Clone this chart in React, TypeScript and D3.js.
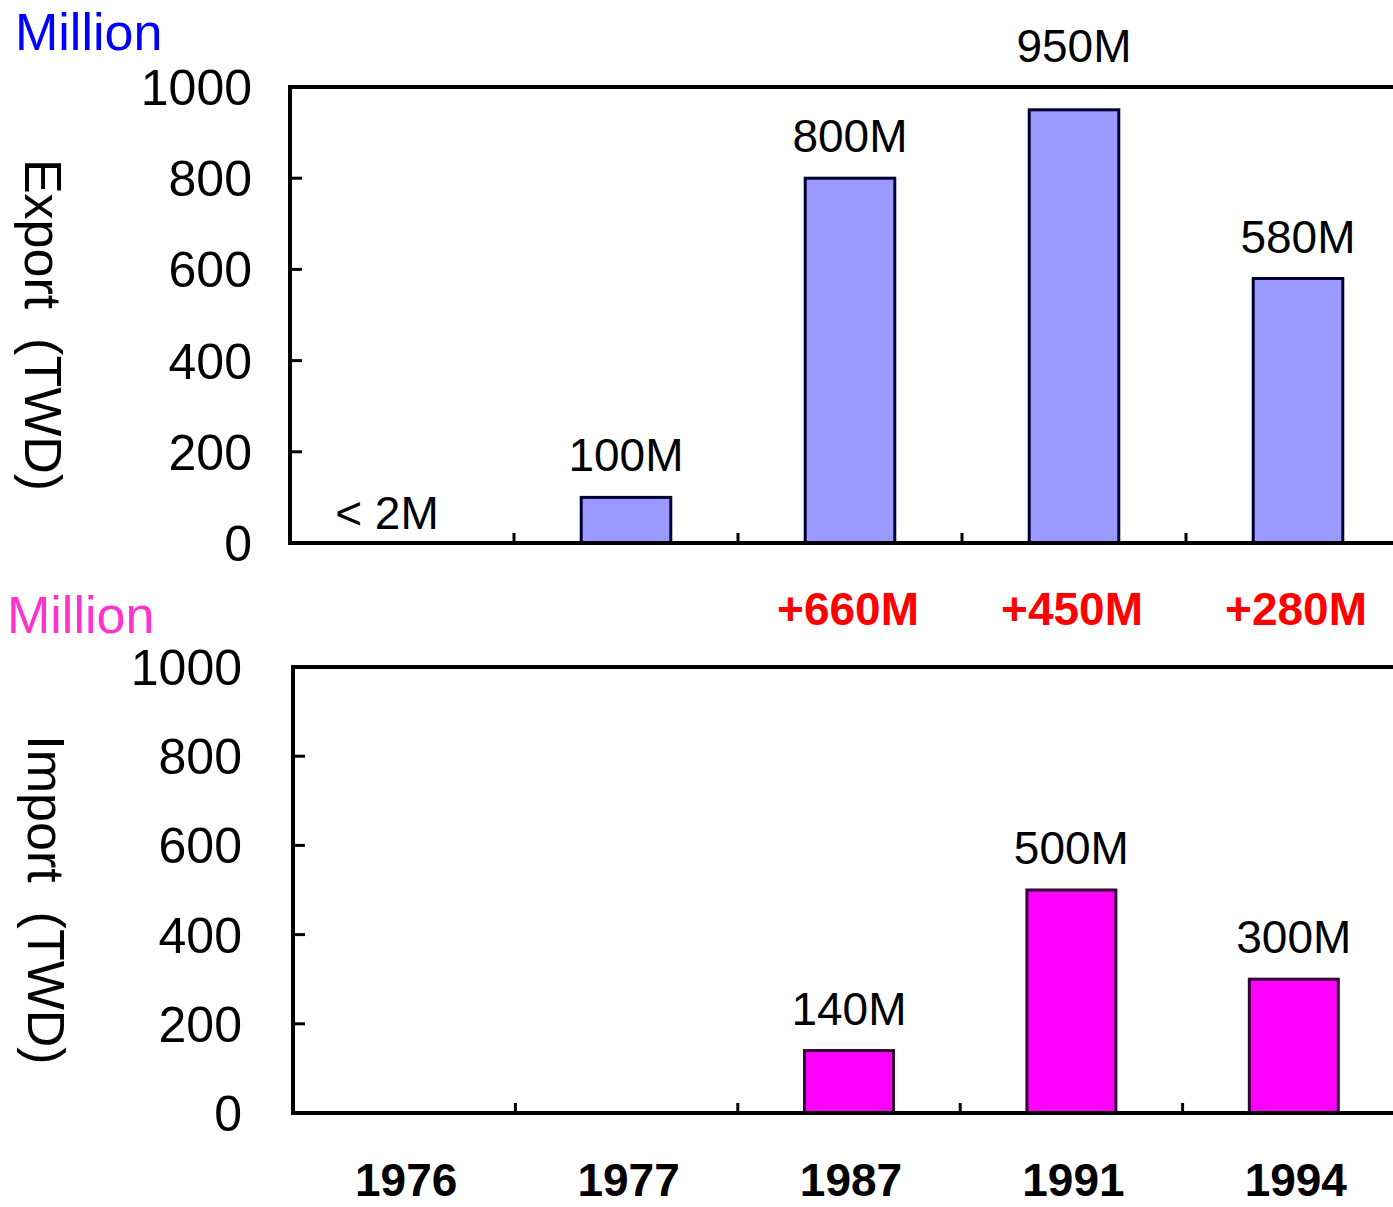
import { useEffect, useRef } from 'react'
import * as d3 from 'd3'

const years = ['1976', '1977', '1987', '1991', '1994']
const exportValues = [2, 100, 800, 950, 580]
const exportLabels = ['< 2M', '100M', '800M', '950M', '580M']
const importValues = [0, 0, 140, 500, 300]
const importLabels = ['', '', '140M', '500M', '300M']
const yTicks = [0, 200, 400, 600, 800, 1000]

const W = 1393
const H = 1207
const FONT = "'Liberation Sans', Arial, sans-serif"

export default function App() {
  const svgRef = useRef<SVGSVGElement>(null)

  useEffect(() => {
    if (!svgRef.current) return
    const svg = d3.select(svgRef.current)
    svg.selectAll('*').remove()

    svg.append('rect').attr('width', W).attr('height', H).attr('fill', 'white')

    // one panel = frame + bars + labels
    const panel = (opts: {
      left: number; right: number; top: number; bottom: number
      values: number[]; labels: string[]; fill: string; stroke: string
      tickRight: number; unitColor: string; unitY: number; unitX: number
      title: string; titleX: number
    }) => {
      const { left, right, top, bottom, values, labels, fill, stroke } = opts
      const x = d3.scaleBand<string>().domain(years).range([left, right]).paddingInner(0.6).paddingOuter(0.3)
      const xStep = d3.scaleBand<string>().domain(years).range([left, right]).padding(0)
      const y = d3.scaleLinear().domain([0, 1000]).range([bottom, top])

      // bars
      years.forEach((yr, i) => {
        const v = values[i]
        if (v < 5) return
        svg.append('rect')
          .attr('x', x(yr)!)
          .attr('y', y(v))
          .attr('width', x.bandwidth())
          .attr('height', y(0) - y(v))
          .attr('fill', fill)
          .attr('stroke', stroke)
          .attr('stroke-width', 3)
      })

      // value labels
      years.forEach((yr, i) => {
        if (!labels[i]) return
        const v = values[i]
        const tiny = v < 10
        let ly = y(v) - (tiny ? 13 : 26)
        if (ly < top + 36) ly = top - 25
        svg.append('text')
          .attr('x', x(yr)! + x.bandwidth() / 2 - (tiny ? 15 : 0))
          .attr('y', ly)
          .attr('text-anchor', 'middle')
          .attr('font-family', FONT)
          .attr('font-size', 46)
          .attr('fill', 'black')
          .text(labels[i])
      })

      // frame
      svg.append('path')
        .attr('d', `M${left},${top}H${W}M${left},${top - 2}V${bottom + 2}M${left - 2},${bottom}H${W}`)
        .attr('stroke', 'black')
        .attr('stroke-width', 4)
        .attr('fill', 'none')

      // y ticks + labels
      yTicks.forEach(t => {
        if (t > 0 && t < 1000) {
          svg.append('line')
            .attr('x1', left).attr('x2', left + 12)
            .attr('y1', y(t)).attr('y2', y(t))
            .attr('stroke', 'black').attr('stroke-width', 3)
        }
        svg.append('text')
          .attr('x', opts.tickRight)
          .attr('y', y(t))
          .attr('dy', '0.36em')
          .attr('text-anchor', 'end')
          .attr('font-family', FONT)
          .attr('font-size', 50)
          .attr('fill', 'black')
          .text(t)
      })

      // x ticks at category boundaries
      years.slice(1).forEach(yr => {
        const bx = xStep(yr)!
        svg.append('line')
          .attr('x1', bx).attr('x2', bx)
          .attr('y1', bottom).attr('y2', bottom - 10)
          .attr('stroke', 'black').attr('stroke-width', 3)
      })

      // unit label
      svg.append('text')
        .attr('x', opts.unitX)
        .attr('y', opts.unitY)
        .attr('font-family', FONT)
        .attr('font-size', 52)
        .attr('fill', opts.unitColor)
        .text('Million')

      // axis title, rotated
      svg.append('text')
        .attr('transform', `translate(${opts.titleX},${(top + bottom) / 2 + 10}) rotate(90)`)
        .attr('text-anchor', 'middle')
        .attr('font-family', FONT)
        .attr('font-size', 52)
        .attr('fill', 'black')
        .style('white-space', 'pre')
        .text(opts.title)

      return { x, xStep }
    }

    panel({
      left: 290, right: 1410, top: 87, bottom: 543,
      values: exportValues, labels: exportLabels,
      fill: '#9999FF', stroke: '#000033',
      tickRight: 252, unitColor: '#0000FF', unitX: 15, unitY: 50,
      title: 'Export  (TWD)', titleX: 25,
    })

    const bottomPanel = panel({
      left: 293, right: 1405, top: 667, bottom: 1113,
      values: importValues, labels: importLabels,
      fill: '#FF00FF', stroke: '#330033',
      tickRight: 242, unitColor: '#FF33CC', unitX: 7, unitY: 633,
      title: 'Import  (TWD)', titleX: 28,
    })

    // export minus import, shown between the panels
    const topX = d3.scaleBand<string>().domain(years).range([290, 1410]).padding(0)
    years.forEach((yr, i) => {
      if (!importValues[i]) return
      const diff = exportValues[i] - importValues[i]
      svg.append('text')
        .attr('x', topX(yr)! + topX.bandwidth() / 2 - 2)
        .attr('y', 625)
        .attr('text-anchor', 'middle')
        .attr('font-family', FONT)
        .attr('font-size', 46)
        .attr('font-weight', 'bold')
        .attr('fill', '#FF0000')
        .text(`+${diff}M`)
    })

    // year labels
    years.forEach(yr => {
      const bx = bottomPanel.xStep(yr)!
      svg.append('text')
        .attr('x', bx + bottomPanel.xStep.bandwidth() / 2 + 2)
        .attr('y', 1196)
        .attr('text-anchor', 'middle')
        .attr('font-family', FONT)
        .attr('font-size', 46)
        .attr('font-weight', 'bold')
        .attr('fill', 'black')
        .text(yr)
    })
  }, [])

  return (
    <svg
      ref={svgRef}
      width={W}
      height={H}
      style={{ position: 'absolute', left: 0, top: 0, display: 'block' }}
    />
  )
}
